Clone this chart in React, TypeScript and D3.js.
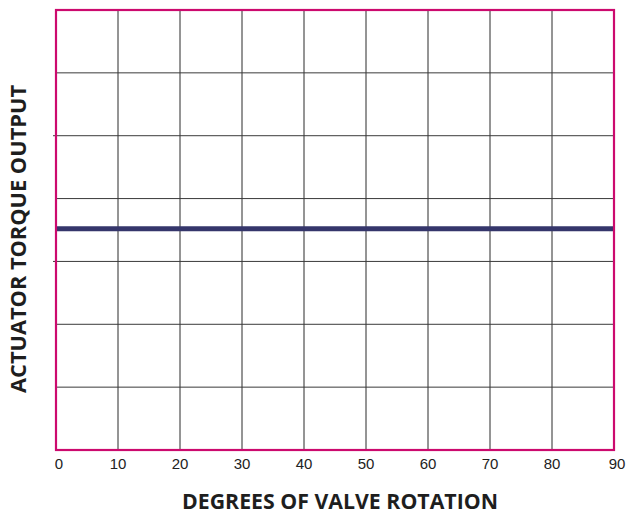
import { useEffect, useRef } from 'react';
import * as d3 from 'd3';

const xTicks = [0, 10, 20, 30, 40, 50, 60, 70, 80, 90];
const yGrid = [0, 1, 2, 3, 4, 5, 6, 7];
const yTickMarks = [3, 5];
const torqueLine = [
  { deg: 0, torque: 3.52 },
  { deg: 90, torque: 3.52 },
];
const xTitle = 'DEGREES OF VALVE ROTATION';
const yTitle = 'ACTUATOR TORQUE OUTPUT';

const App = () => {
  const ref = useRef<SVGSVGElement>(null);

  useEffect(() => {
    const margin = { top: 10, left: 56 };
    const W = 626;
    const H = 514;
    const width = 558;
    const height = 440;

    const root = d3.select(ref.current);
    root.selectAll('*').remove();

    const svg = root.append('g').attr('transform', `translate(${margin.left},${margin.top})`);

    const x = d3.scaleLinear().domain([0, 90]).range([0, width]);
    const y = d3.scaleLinear().domain([0, 7]).range([height, 0]);

    // vertical grid
    svg.append('g')
      .selectAll('line')
      .data(xTicks.slice(1, -1))
      .join('line')
      .attr('x1', d => x(d))
      .attr('x2', d => x(d))
      .attr('y1', 0)
      .attr('y2', height)
      .attr('stroke', '#2a2a2a')
      .attr('stroke-width', 1);

    // horizontal grid
    svg.append('g')
      .selectAll('line')
      .data(yGrid.slice(1, -1))
      .join('line')
      .attr('x1', d => (yTickMarks.includes(d) ? -3 : 0))
      .attr('x2', width)
      .attr('y1', d => y(d))
      .attr('y2', d => y(d))
      .attr('stroke', '#3a3a3a')
      .attr('stroke-width', 1);

    // torque line
    svg.append('path')
      .datum(torqueLine)
      .attr('fill', 'none')
      .attr('stroke', '#35366b')
      .attr('stroke-width', 5)
      .attr('d', d3.line<{ deg: number; torque: number }>()
        .x(d => x(d.deg))
        .y(d => y(d.torque)));

    // frame
    svg.append('rect')
      .attr('x', 0)
      .attr('y', 0)
      .attr('width', width)
      .attr('height', height)
      .attr('fill', 'none')
      .attr('stroke', '#cc0a6e')
      .attr('stroke-width', 2.2);

    // x tick labels
    svg.append('g')
      .selectAll('text')
      .data(xTicks)
      .join('text')
      .attr('x', d => x(d) + (d === 0 || d === 90 ? 3 : 0))
      .attr('y', height + 19)
      .attr('text-anchor', 'middle')
      .attr('font-family', 'Liberation Sans, Arial, sans-serif')
      .attr('font-size', 15)
      .attr('fill', '#222')
      .text(d => d);

    // axis titles
    root.append('text')
      .attr('x', 340)
      .attr('y', H - 5)
      .attr('text-anchor', 'middle')
      .attr('font-family', 'Open Sans, sans-serif')
      .attr('font-weight', 700)
      .attr('font-size', 21)
      .attr('fill', '#1e1e1e')
      .attr('textLength', 316)
      .attr('lengthAdjust', 'spacingAndGlyphs')
      .text(xTitle);

    root.append('text')
      .attr('transform', `translate(26,239) rotate(-90)`)
      .attr('text-anchor', 'middle')
      .attr('font-family', 'Open Sans, sans-serif')
      .attr('font-weight', 700)
      .attr('font-size', 21)
      .attr('fill', '#1e1e1e')
      .attr('textLength', 308)
      .attr('lengthAdjust', 'spacingAndGlyphs')
      .text(yTitle);

    root.attr('width', W).attr('height', H);
  }, []);

  return (
    <svg
      ref={ref}
      width={626}
      height={514}
      style={{ position: 'absolute', left: 0, top: 0, background: '#fff' }}
    />
  );
};

export default App;
